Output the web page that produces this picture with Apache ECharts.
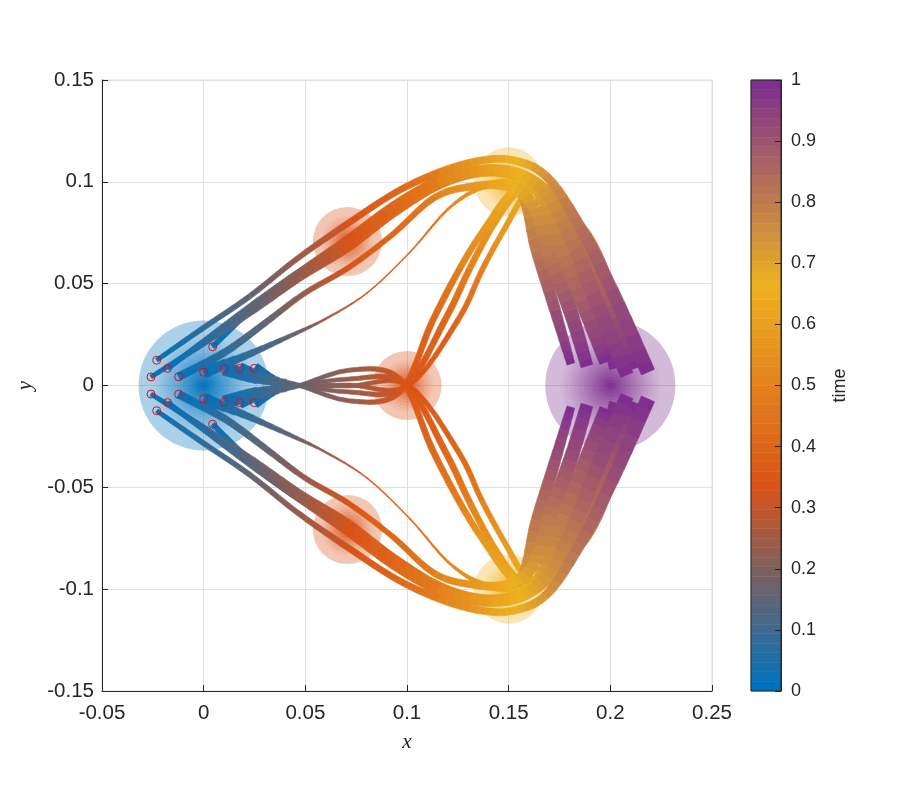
<!DOCTYPE html>
<html>
<head>
<meta charset="utf-8">
<title>trajectories</title>
<style>
html, body { margin: 0; padding: 0; background: #fff; }
#chart { width: 900px; height: 800px; }
</style>
<script src="https://cdn.jsdelivr.net/npm/echarts@6/dist/echarts.min.js"></script>
</head>
<body>
<div id="chart"></div>
<script>
// time of each waypoint, shared by all the trajectories
var times = [0, 0.08, 0.16, 0.24, 0.33, 0.42, 0.5, 0.58, 0.66, 0.74, 0.82, 0.91, 1];

// upper half trajectories, [x, y] at each time
var trajA = [[-0.0231,0.0124],[-0.0003,0.0282],[0.0228,0.0439],[0.0464,0.0626],[0.0720,0.0803],[0.0956,0.0955],[0.1162,0.1048],[0.1349,0.1102],[0.1517,0.1107],[0.1679,0.1033],[0.1826,0.0822],[0.2008,0.0469],[0.2185,0.0066]];
var trajB = [[-0.0177,0.0084],[0.0041,0.0248],[0.0267,0.0415],[0.0484,0.0567],[0.0700,0.0714],[0.0931,0.0881],[0.1152,0.1004],[0.1349,0.1058],[0.1541,0.1043],[0.1694,0.0935],[0.1812,0.0714],[0.1939,0.0395],[0.2081,0.0052]];
var trajC = [[-0.0259,0.0042],[-0.0018,0.0194],[0.0238,0.0361],[0.0474,0.0528],[0.0710,0.0675],[0.0941,0.0852],[0.1162,0.0989],[0.1369,0.1048],[0.1556,0.1033],[0.1713,0.0920],[0.1861,0.0665],[0.2023,0.0331],[0.2136,0.0101]];
var trajD = [[0.0044,0.0190],[0.0228,0.0371],[0.0385,0.0498],[0.0547,0.0606],[0.0729,0.0724],[0.0941,0.0871],[0.1162,0.1009],[0.1384,0.1058],[0.1580,0.1019],[0.1694,0.0886],[0.1777,0.0641],[0.1900,0.0322],[0.1979,0.0115]];
var trajE = [[-0.0123,0.0043],[0.0105,0.0164],[0.0302,0.0307],[0.0498,0.0454],[0.0710,0.0577],[0.0926,0.0739],[0.1138,0.0925],[0.1334,0.0979],[0.1507,0.0974],[0.1630,0.0871],[0.1703,0.0641],[0.1802,0.0371],[0.1885,0.0096]];
var trajF = [[0,0.0065],[0.0203,0.0145],[0.0424,0.0243],[0.0597,0.0326],[0.0803,0.0454],[0.1015,0.0655],[0.1197,0.0862],[0.1349,0.0965],[0.1497,0.0994],[0.1580,0.0911],[0.1639,0.0665],[0.1728,0.0371],[0.1806,0.0106]];
var trajG = [[0.0101,0.0082],[0.0267,0.0037],[0.0449,0.0007],[0.0720,-0.0076],[0.0966,-0.0032],[0.1123,0.0312],[0.1261,0.0577],[0.1384,0.0773],[0.1531,0.0960],[0.1664,0.0950],[0.1876,0.0739],[0.2008,0.0444],[0.2072,0.0209]];
var trajH = [[0.0177,0.0084],[0.0316,0.0027],[0.0449,0.0002],[0.0720,-0.0032],[0.0985,-0.0012],[0.1187,0.0322],[0.1310,0.0577],[0.1433,0.0803],[0.1556,0.0960],[0.1694,0.0935],[0.1841,0.0690],[0.1949,0.0371],[0.2028,0.0086]];
var trajI = [[0.0249,0.0084],[0.0360,0.0017],[0.0449,-0.0002],[0.0720,0.0002],[0.1005,-0.0002],[0.1251,0.0322],[0.1369,0.0567],[0.1482,0.0773],[0.1595,0.0945],[0.1733,0.0911],[0.1900,0.0641],[0.2038,0.0322],[0.2126,0.0086]];

// ribbon thickness at each time, in data units
var thickA = [0.0020,0.0025,0.0025,0.0025,0.0030,0.0030,0.0035,0.0035,0.0035,0.0040,0.0050,0.0060,0.0070];
var thickB = [0.0025,0.0025,0.0030,0.0030,0.0035,0.0040,0.0045,0.0045,0.0050,0.0060,0.0070,0.0070,0.0065];
var thickC = [0.0020,0.0025,0.0025,0.0030,0.0035,0.0040,0.0045,0.0045,0.0050,0.0060,0.0070,0.0070,0.0070];
var thickD = [0.0025,0.0030,0.0030,0.0030,0.0035,0.0040,0.0045,0.0050,0.0060,0.0070,0.0080,0.0075,0.0065];
var thickE = [0.0040,0.0035,0.0030,0.0025,0.0025,0.0025,0.0030,0.0035,0.0045,0.0060,0.0075,0.0070,0.0060];
var thickF = [0.0065,0.0035,0.0020,0.0010,0.0005,0.0005,0.0010,0.0020,0.0035,0.0050,0.0060,0.0055,0.0040];
var thickG = [0.0065,0.0060,0.0020,0.0020,0.0025,0.0030,0.0030,0.0030,0.0035,0.0045,0.0060,0.0060,0.0060];
var thickH = [0.0060,0.0050,0.0015,0.0020,0.0025,0.0030,0.0030,0.0030,0.0035,0.0045,0.0060,0.0060,0.0065];
var thickI = [0.0060,0.0045,0.0015,0.0020,0.0020,0.0025,0.0025,0.0025,0.0030,0.0040,0.0055,0.0055,0.0060];

var upperPaths = [trajI, trajH, trajG, trajF, trajE, trajD, trajC, trajB, trajA];
var upperThick = [thickI, thickH, thickG, thickF, thickE, thickD, thickC, thickB, thickA];

// target discs: x, y, radius, time
var discs = [
	[0, 0, 0.032, 0],
	[0.1, 0, 0.017, 0.33],
	[0.0707, 0.0707, 0.017, 0.33],
	[0.0707, -0.0707, 0.017, 0.33],
	[0.15, 0.1, 0.017, 0.66],
	[0.15, -0.1, 0.017, 0.66],
	[0.2, 0, 0.032, 1]
];

var xTicks = [-0.05, 0, 0.05, 0.1, 0.15, 0.2, 0.25];
var yTicks = [-0.15, -0.1, -0.05, 0, 0.05, 0.1, 0.15];
var mapStops = [0, 1 / 3, 2 / 3, 1];
var mapColors = [[0, 114, 189], [217, 83, 25], [237, 177, 32], [126, 47, 142]];
var levels = 64;

// the lower half is the mirror of the upper one
function mirror(path) {
	return path.map(function(p) { return [p[0], -p[1]]; });
}
var paths = upperPaths.concat(upperPaths.map(mirror));
var thicks = upperThick.concat(upperThick);

function timeColor(t, alpha) {
	var lev = Math.min(levels - 1, Math.floor(t * levels)) / (levels - 1);
	var i = lev >= mapStops[2] ? 2 : (lev >= mapStops[1] ? 1 : 0);
	var f = (lev - mapStops[i]) / (mapStops[i + 1] - mapStops[i]);
	var c = [0, 1, 2].map(function(k) {
		return Math.round(mapColors[i][k] + (mapColors[i + 1][k] - mapColors[i][k]) * f);
	});
	return 'rgba(' + c[0] + ',' + c[1] + ',' + c[2] + ',' + (alpha === undefined ? 1 : alpha) + ')';
}

// catmull-rom between the read waypoints, only to draw the ribbon smooth
function spline(a, b, c, d, s) {
	return 0.5 * (2 * b + (c - a) * s + (2 * a - 5 * b + 4 * c - d) * s * s + (3 * b - a - 3 * c + d) * s * s * s);
}

function renderRibbon(params, api) {
	var idx = api.value(0);
	var path = paths[idx];
	var thick = thicks[idx];
	var pxPerUnit = api.size([1, 0])[0];
	var pts = path.map(function(p) { return api.coord(p); });
	var samples = [];
	var n = pts.length;
	for (var i = 0; i < n - 1; i++) {
		var p0 = pts[Math.max(0, i - 1)], p1 = pts[i], p2 = pts[i + 1], p3 = pts[Math.min(n - 1, i + 2)];
		var steps = Math.round((times[i + 1] - times[i]) * levels);
		for (var j = 0; j < steps; j++) {
			var s = j / steps;
			samples.push({
				x: spline(p0[0], p1[0], p2[0], p3[0], s),
				y: spline(p0[1], p1[1], p2[1], p3[1], s),
				w: (thick[i] + (thick[i + 1] - thick[i]) * s) * pxPerUnit,
				t: times[i] + (times[i + 1] - times[i]) * s
			});
		}
	}
	samples.push({ x: pts[n - 1][0], y: pts[n - 1][1], w: thick[n - 1] * pxPerUnit, t: 1 });
	var children = [];
	for (var k = 0; k < samples.length - 1; k++) {
		var a = samples[k], b = samples[k + 1];
		var dx = b.x - a.x, dy = b.y - a.y;
		var len = Math.sqrt(dx * dx + dy * dy) || 1;
		var nx = -dy / len * b.w / 2, ny = dx / len * b.w / 2;
		var col = timeColor(a.t);
		children.push({
			type: 'polygon',
			shape: { points: [[a.x + nx, a.y + ny], [b.x + nx, b.y + ny], [b.x - nx, b.y - ny], [a.x - nx, a.y - ny]] },
			style: { fill: col, stroke: col, lineWidth: 0.6 }
		});
	}
	return { type: 'group', children: children };
}

function renderDisc(params, api) {
	var c = api.coord([api.value(0), api.value(1)]);
	var r = api.size([api.value(2), 0])[0];
	var t = api.value(3);
	var rings = Math.round(r / 3);
	var stops = [];
	for (var i = 0; i < rings; i++) {
		var u = (i + 0.5) / rings;
		var alpha = 0.33 + 0.67 * Math.pow(Math.max(0, 1 - u / 0.8), 1.2);
		stops.push({ offset: i / rings, color: timeColor(t, alpha) });
		stops.push({ offset: (i + 1) / rings, color: timeColor(t, alpha) });
	}
	return {
		type: 'circle',
		shape: { cx: c[0], cy: c[1], r: r },
		style: { fill: new echarts.graphic.RadialGradient(0.5, 0.5, 0.5, stops) }
	};
}

function renderLevel(params, api) {
	var lo = api.coord([0, api.value(0) / levels]);
	var hi = api.coord([1, (api.value(0) + 1) / levels]);
	var col = timeColor((api.value(0) + 0.5) / levels);
	return {
		type: 'rect',
		shape: { x: lo[0], y: hi[1], width: hi[0] - lo[0], height: lo[1] - hi[1] },
		style: { fill: col, stroke: col, lineWidth: 0.5 }
	};
}

var labelFont = 'Liberation Sans';
var ink = '#262626';
var levelRows = [];
for (var l = 0; l < levels; l++) levelRows.push([l]);

var option = {
	backgroundColor: '#ffffff',
	animation: false,
	grid: [
		{ left: 102, top: 80, width: 610, height: 611, show: true, borderColor: '#dcdcdc', borderWidth: 1, backgroundColor: 'transparent' },
		{ left: 751, top: 80, width: 30, height: 611, show: true, borderColor: ink, borderWidth: 1, backgroundColor: 'transparent', z: 5 }
	],
	xAxis: [{
		type: 'value',
		gridIndex: 0,
		min: xTicks[0],
		max: xTicks[xTicks.length - 1],
		interval: 0.05,
		name: 'x',
		nameLocation: 'middle',
		nameGap: 41,
		nameTextStyle: { fontFamily: 'Liberation Serif', fontStyle: 'italic', fontSize: 21, color: ink },
		axisLine: { show: true, onZero: false, lineStyle: { color: ink } },
		axisTick: { show: true, inside: true, length: 6, lineStyle: { color: ink } },
		axisLabel: { fontFamily: labelFont, fontSize: 20.5, color: ink, margin: 12 },
		splitLine: { show: true, lineStyle: { color: '#e0e0e0', width: 1 } }
	}, {
		type: 'value',
		gridIndex: 1,
		min: 0,
		max: 1,
		show: false
	}],
	yAxis: [{
		type: 'value',
		gridIndex: 0,
		min: yTicks[0],
		max: yTicks[yTicks.length - 1],
		interval: 0.05,
		name: 'y',
		nameLocation: 'middle',
		nameRotate: 90,
		nameGap: 66,
		nameTextStyle: { fontFamily: 'Liberation Serif', fontStyle: 'italic', fontSize: 21, color: ink },
		axisLine: { show: true, onZero: false, lineStyle: { color: ink } },
		axisTick: { show: true, inside: true, length: 6, lineStyle: { color: ink } },
		axisLabel: { fontFamily: labelFont, fontSize: 20.5, color: ink, margin: 8 },
		splitLine: { show: true, lineStyle: { color: '#e0e0e0', width: 1 } }
	}, {
		type: 'value',
		gridIndex: 1,
		position: 'right',
		z: 10,
		min: 0,
		max: 1,
		interval: 0.1,
		name: 'time',
		nameLocation: 'middle',
		nameRotate: 90,
		nameGap: 50,
		nameTextStyle: { fontFamily: labelFont, fontSize: 18, color: ink },
		axisLine: { show: true, onZero: false, lineStyle: { color: ink } },
		axisTick: { show: true, inside: true, length: 6, lineStyle: { color: ink } },
		axisLabel: { fontFamily: labelFont, fontSize: 18, color: ink, margin: 10 },
		splitLine: { show: false }
	}],
	series: [{
		type: 'custom',
		name: 'discs',
		renderItem: renderDisc,
		data: discs,
		silent: true,
		z: 2
	}, {
		type: 'custom',
		name: 'trajectories',
		renderItem: renderRibbon,
		data: paths.map(function(p, i) { return [i]; }),
		silent: true,
		z: 3
	}, {
		type: 'scatter',
		name: 'start',
		data: paths.map(function(p) { return p[0]; }),
		symbol: 'circle',
		symbolSize: 8,
		itemStyle: { color: 'transparent', borderColor: '#ff0000', borderWidth: 1, opacity: 1 },
		silent: true,
		z: 4
	}, {
		type: 'custom',
		name: 'colorbar',
		xAxisIndex: 1,
		yAxisIndex: 1,
		renderItem: renderLevel,
		data: levelRows,
		silent: true,
		z: 1
	}]
};

var chart = echarts.init(document.getElementById('chart'), null, { renderer: 'canvas' });
chart.setOption(option);
</script>
</body>
</html>
